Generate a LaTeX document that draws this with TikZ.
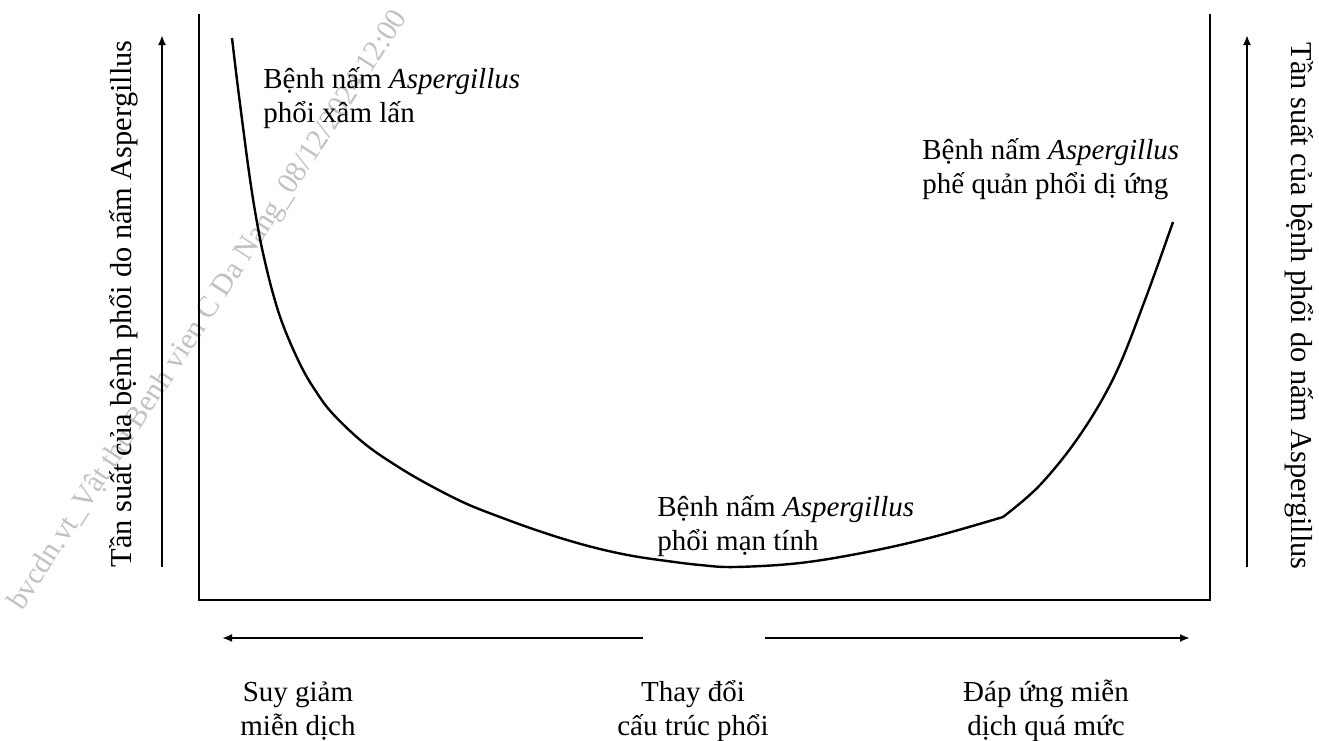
\documentclass[tikz,border=0pt]{standalone}
\usepackage{fontspec}
\setmainfont{Liberation Serif}
\usepackage{tikz}
\usetikzlibrary{arrows.meta}
\tikzset{
	lbl/.style={align=left,inner sep=0pt,anchor=base west,font=\fontsize{14.5}{17}\selectfont},
	clbl/.style={align=center,inner sep=0pt,anchor=base,font=\fontsize{14.5}{17}\selectfont},
	axlbl/.style={inner sep=0pt,font=\fontsize{15.2}{17}\selectfont},
	axarr/.style={line width=1pt,-{Latex[length=5pt,width=4pt]}},
	wmark/.style={inner sep=0pt,anchor=base west,rotate=57,text=black!24,font=\fontsize{15}{15}\selectfont}
}

\begin{document}
\begin{tikzpicture}[x=0.5pt,y=-0.5pt]
	\useasboundingbox (0,0) rectangle (1319,740);

	% watermark
	\node [wmark] (wm) at (22,612) {bvcdn.vt\_Vật thu Benh vien C Da Nang\_08/12/2024 12:00};

	% frame
	\draw [line width=1.2pt] (199,14) -- (199,600) -- (1210,600) -- (1210,14);

	% curve
	\draw [line width=1.2pt] plot [smooth,tension=0.6] coordinates {(232,38) (237,80) (243,127) (248,165) (253,199) (258,228) (263,253) (272,290) (283,325) (300,364) (315,390) (333,414) (365,444) (400,468) (433,487) (467,504) (500,517) (533,529) (567,540) (600,549) (633,556) (667,561) (700,565) (735,567) (800,563) (867,552) (933,537) (1003,517)};
	\draw [line width=1.2pt] plot [smooth,tension=0.6] coordinates {(1003,517) (1040,485) (1080,435) (1115,375) (1145,300) (1173,222)};

	% arrows
	\coordinate (lb) at (162,567);
	\coordinate (lt) at (162,35);
	\coordinate (rb) at (1247,567);
	\coordinate (rt) at (1247,35);
	\coordinate (bl0) at (643,638);
	\coordinate (bl1) at (222,638);
	\coordinate (br0) at (765,638);
	\coordinate (br1) at (1190,638);
	\draw [axarr] (lb) -- (lt);
	\draw [axarr] (rb) -- (rt);
	\draw [axarr] (bl0) -- (bl1);
	\draw [axarr] (br0) -- (br1);

	% axis labels
	\node [axlbl,rotate=90] (ylblL) at (124,304) {Tần suất của bệnh phổi do nấm Aspergillus};
	\node [axlbl,rotate=-90] (ylblR) at (1299,306) {Tần suất của bệnh phổi do nấm Aspergillus};

	% disease labels (anchored at the baseline of the last line)
	\node [lbl] (xamlan) at (263,122) {Bệnh nấm \textit{Aspergillus}\\phổi xâm lấn};
	\node [lbl] (diung) at (922,193) {Bệnh nấm \textit{Aspergillus}\\phế quản phổi dị ứng};
	\node [lbl] (mantinh) at (657,550) {Bệnh nấm \textit{Aspergillus}\\phổi mạn tính};

	% bottom labels
	\node [clbl] (suygiam) at (298,735) {Suy giảm\\miễn dịch};
	\node [clbl] (thaydoi) at (693,735) {Thay đổi\\cấu trúc phổi};
	\node [clbl] (dapung) at (1046,735) {Đáp ứng miễn\\dịch quá mức};
\end{tikzpicture}
\end{document}
